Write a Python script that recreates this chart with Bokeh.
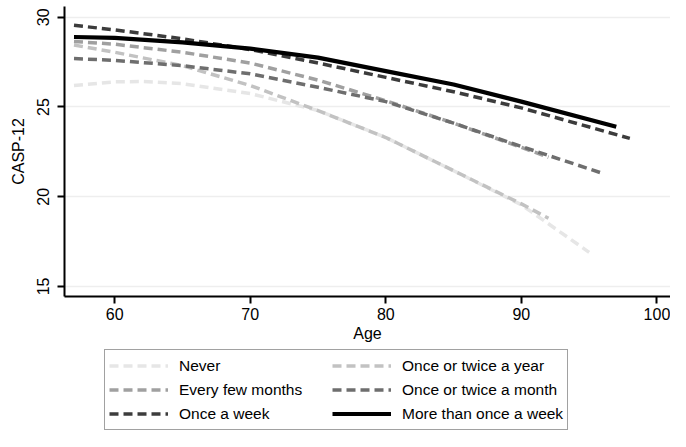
import math
from bokeh.plotting import figure
from bokeh.layouts import column
from bokeh.models import Range1d, Legend, LegendItem, FixedTicker
from bokeh.embed import file_html
from bokeh.resources import INLINE

# ---- data ----
labels = ["Never", "Once or twice a year", "Every few months",
          "Once or twice a month", "Once a week", "More than once a week"]

age_never = [57, 60, 62, 65, 70, 75, 80, 85, 90, 95]
casp_never = [26.2, 26.4, 26.42, 26.3, 25.75, 24.8, 23.3, 21.45, 19.55, 16.9]

age_year = [57, 60, 65, 70, 75, 80, 85, 90, 92]
casp_year = [28.45, 28.05, 27.3, 26.2, 24.8, 23.3, 21.45, 19.6, 18.8]

age_months = [57, 60, 65, 70, 75, 80, 85, 90, 92]
casp_months = [28.65, 28.5, 28.05, 27.45, 26.5, 25.35, 24.1, 22.75, 22.2]

age_month = [57, 60, 65, 70, 75, 80, 85, 90, 96]
casp_month = [27.7, 27.6, 27.3, 26.85, 26.1, 25.3, 24.1, 22.8, 21.3]

age_week = [57, 60, 65, 70, 75, 80, 85, 90, 98]
casp_week = [29.55, 29.3, 28.8, 28.2, 27.45, 26.65, 25.85, 24.95, 23.25]

age_more = [57, 60, 65, 70, 75, 80, 85, 90, 97]
casp_more = [28.9, 28.85, 28.6, 28.25, 27.75, 27.0, 26.25, 25.3, 23.9]

x_ticks = [60, 70, 80, 90, 100]
y_ticks = [15, 20, 25, 30]

series = [
    (age_never, casp_never, "#e6e6e6", "dashed"),
    (age_year, casp_year, "#c2c2c2", "dashed"),
    (age_months, casp_months, "#a0a0a0", "dashed"),
    (age_month, casp_month, "#6e6e6e", "dashed"),
    (age_week, casp_week, "#3c3c3c", "dashed"),
    (age_more, casp_more, "#000000", "solid"),
]

FONT = "Liberation Sans"


def style_kw(col, style):
    if style == "solid":
        return dict(line_color=col, line_width=4.2)
    return dict(line_color=col, line_width=3.5, line_dash="9 5")


# ---- main plot ----
p = figure(width=670, height=349, output_backend="svg", toolbar_location=None,
           x_range=Range1d(56.3, 101.0), y_range=Range1d(14.44, 30.6),
           min_border_left=64, min_border_right=0, min_border_top=6,
           min_border_bottom=53)
p.outline_line_color = None
p.background_fill_color = "white"
p.border_fill_color = "white"

for xs, ys, col, style in series:
    p.line(xs, ys, **style_kw(col, style))

p.xgrid.visible = False
p.ygrid.grid_line_color = "#eeeeee"
p.ygrid.grid_line_width = 1.5
p.ygrid.ticker = FixedTicker(ticks=y_ticks)

p.xaxis.ticker = FixedTicker(ticks=x_ticks)
p.yaxis.ticker = FixedTicker(ticks=y_ticks)
for ax in (p.xaxis[0], p.yaxis[0]):
    ax.axis_line_color = "black"
    ax.axis_line_width = 2
    ax.major_tick_line_color = "black"
    ax.major_tick_line_width = 2
    ax.major_tick_out = 7
    ax.major_tick_in = 0
    ax.minor_tick_line_color = None
    ax.major_label_text_font = FONT
    ax.major_label_text_font_size = "16px"
    ax.major_label_text_color = "black"
    ax.axis_label_text_font = FONT
    ax.axis_label_text_font_size = "16px"
    ax.axis_label_text_font_style = "normal"
    ax.axis_label_text_color = "black"

p.xaxis.axis_label = "Age"
p.xaxis.major_label_standoff = 4
p.xaxis.axis_label_standoff = 2
p.yaxis.axis_label = "CASP-12"
p.yaxis.major_label_orientation = "vertical"
p.yaxis.major_label_standoff = 8
p.yaxis.axis_label_standoff = 8

# ---- legend strip (its lines hold the same data, outside its view) ----
q = figure(width=670, height=82, output_backend="svg", toolbar_location=None,
           x_range=Range1d(0, 1), y_range=Range1d(0, 1),
           x_axis_type=None, y_axis_type=None,
           min_border_left=0, min_border_right=0, min_border_top=0,
           min_border_bottom=0)
q.outline_line_color = None
q.grid.visible = False
q.background_fill_color = "white"
q.border_fill_color = "white"

items = []
for (xs, ys, col, style), lab in zip(series, labels):
    r = q.line(xs, ys, **style_kw(col, style))
    items.append(LegendItem(label=lab, renderers=[r]))

legend = Legend(items=items, ncols=2, orientation="horizontal",
                location=(40, 1),
                glyph_width=59, glyph_height=23, label_height=23,
                label_width=152, label_standoff=11, spacing=1, padding=4,
                margin=0,
                label_text_font=FONT, label_text_font_size="15.5px",
                label_text_color="black",
                border_line_color="#444444", border_line_width=1,
                background_fill_color="white", background_fill_alpha=1)
q.add_layout(legend, "center")

layout = column(p, q, spacing=0)
open("out.html", "w").write(file_html(layout, INLINE))
